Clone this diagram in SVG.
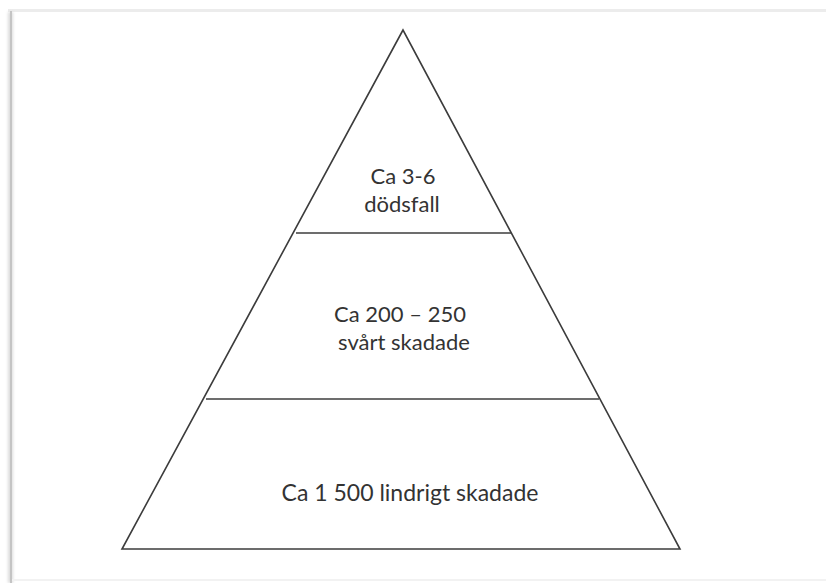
<svg xmlns="http://www.w3.org/2000/svg" width="826" height="583" viewBox="0 0 826 583">
  <defs>
    <style>
      .edge { stroke: #3c3c3c; stroke-width: 1.6; fill: none; }
      .lbl { font-family: Lato, "Open Sans", "Liberation Sans", sans-serif; font-size: 22px; fill: #333333; text-anchor: middle; }
      .big { font-size: 23px; }
    </style>
    <filter id="blur" x="-50%" y="-5%" width="200%" height="110%">
      <feGaussianBlur stdDeviation="1.5"/>
    </filter>
  </defs>
  <rect x="0" y="0" width="826" height="583" fill="#ffffff"/>
  <g id="frame">
    <rect x="8" y="9" width="818" height="3" fill="#ececec"/>
    <rect x="8" y="12" width="5" height="571" fill="#dcdcdc" filter="url(#blur)"/>
    <rect x="10" y="11" width="2" height="572" fill="#c4c4c4"/>
    <rect x="12" y="579" width="814" height="2" fill="#f2f2f2"/>
  </g>
  <g id="pyramid">
    <polygon class="edge" points="403,30 122,549 680,549"/>
  </g>
  <g id="connectors">
    <line class="edge" x1="296" y1="233" x2="511" y2="233"/>
    <line class="edge" x1="206" y1="399" x2="599" y2="399"/>
  </g>
  <g id="top">
    <text class="lbl" x="403" y="184">Ca 3-6</text>
    <text class="lbl" x="402" y="212">dödsfall</text>
  </g>
  <g id="middle">
    <text class="lbl" x="400" y="322">Ca 200 – 250</text>
    <text class="lbl" x="404" y="350">svårt skadade</text>
  </g>
  <g id="bottom">
    <text class="lbl big" x="410" y="501">Ca 1 500 lindrigt skadade</text>
  </g>
</svg>
